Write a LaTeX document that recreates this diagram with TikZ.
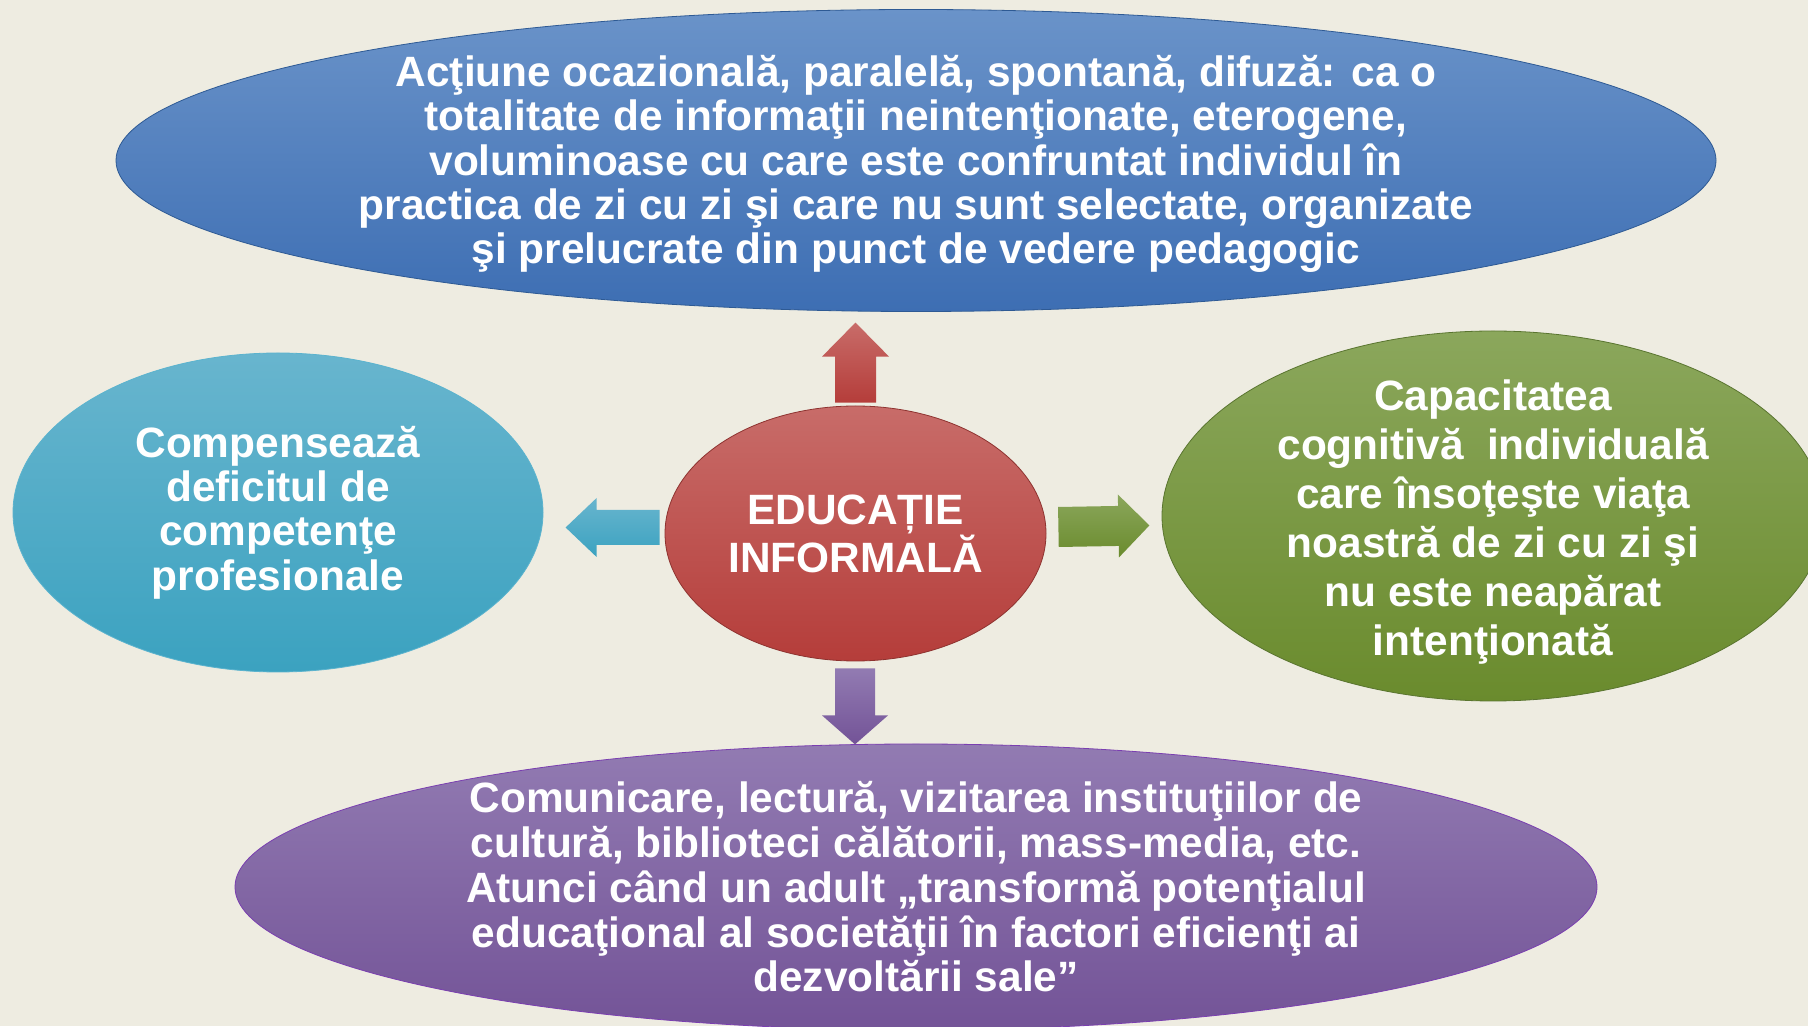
\documentclass[tikz,border=0pt]{standalone}
\usepackage{fontspec}
\setmainfont{Liberation Sans}
\usetikzlibrary{shapes.geometric,calc}

\definecolor{bg}{HTML}{EEECE1}
\definecolor{blueA}{HTML}{6A93C9}
\definecolor{blueB}{HTML}{3D6EB3}
\definecolor{blueD}{HTML}{2E5A94}
\definecolor{redA}{HTML}{C86C69}
\definecolor{redB}{HTML}{B53D3A}
\definecolor{redD}{HTML}{8E3330}
\definecolor{aquaA}{HTML}{68B5CE}
\definecolor{aquaB}{HTML}{3BA2C0}
\definecolor{aquaD}{HTML}{5BB3CE}
\definecolor{greenA}{HTML}{8BA75C}
\definecolor{greenB}{HTML}{6A8B2D}
\definecolor{greenD}{HTML}{5A7530}
\definecolor{violetA}{HTML}{927BB2}
\definecolor{violetB}{HTML}{735397}
\definecolor{violetD}{HTML}{7A3FB0}

\newcommand{\blockarrow}[7]{%
  \begin{scope}[shift={#1},rotate=#2]
    \shade[#7] (0,-#5) -- (#4,-#5) -- (#4,-#6) -- (#3,0) -- (#4,#6) -- (#4,#5) -- (0,#5) -- cycle;
  \end{scope}}

\begin{document}
\begin{tikzpicture}[x=1pt,y=1pt,
  bubble/.style={ellipse, inner sep=-20pt, text=white, align=center, line width=0.8pt,
    font=\bfseries\fontsize{42.4}{44.4}\selectfont}]
  \useasboundingbox (0,0) rectangle (1808,1026);
  \clip (0,0) rectangle (1808,1026);
  \fill[bg] (0,0) rectangle (1808,1026);

  \node[bubble, minimum width=1600pt, minimum height=302pt, top color=blueA, bottom color=blueB, draw=blueD] (act) at (916,865.5)
    {\rule{0pt}{38pt}Acţiune ocazională, paralelă, spontană, difuză: ca o\\totalitate de informaţii neintenţionate, eterogene,\\voluminoase cu care este confruntat individul în\\practica de zi cu zi şi care nu sunt selectate, organizate\\şi prelucrate din punct de vedere pedagogic};
  \node[bubble, minimum width=381pt, minimum height=255pt, top color=redA, bottom color=redB, draw=redD] (edu) at (855.5,492.5)
    {EDUCAȚIE\\INFORMALĂ};
  \node[bubble, minimum width=530pt, minimum height=319pt, top color=aquaA, bottom color=aquaB, draw=aquaD] (comp) at (278,513.5)
    {Compensează\\deficitul de\\competenţe\\profesionale};
  \node[bubble, minimum width=662pt, minimum height=370pt, top color=greenA, bottom color=greenB, draw=greenD,
    font=\bfseries\fontsize{42.4}{49}\selectfont] (cap) at (1493,510)
    {\rule{0pt}{43pt}Capacitatea\\cognitivă~ individuală\\care însoţeşte viaţa\\noastră de zi cu zi şi\\nu este neapărat\\intenţionată};
  \node[bubble, minimum width=1362pt, minimum height=286pt, top color=violetA, bottom color=violetB, draw=violetD,
    font=\bfseries\fontsize{42.4}{44.7}\selectfont] (com) at (916,139)
    {Comunicare, lectură, vizitarea instituţiilor de\\cultură, biblioteci călătorii, mass-media, etc.\\Atunci când un adult „transformă potenţialul\\educaţional al societăţii în factori eficienţi ai\\dezvoltării sale”};

  \blockarrow{($(edu.north)+(0,3)$)}{90}{80}{46}{20.5}{33.5}{top color=redA, bottom color=redB}
  \blockarrow{($(edu.south)+(-0.5,-7)$)}{-90}{76}{47}{20}{33}{top color=violetA, bottom color=violetB}
  \blockarrow{($(edu.east)+(12,6.5)$)}{1}{91}{60}{20}{31.5}{top color=greenA, bottom color=greenB}
  \blockarrow{($(edu.west)+(-5,6)$)}{180}{94}{63}{17.5}{29.5}{top color=aquaA, bottom color=aquaB}
\end{tikzpicture}
\end{document}
